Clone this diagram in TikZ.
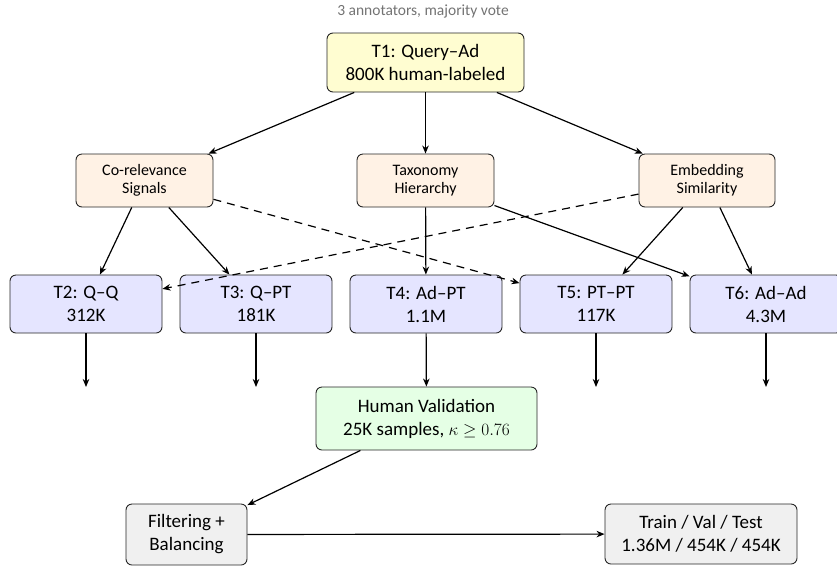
\documentclass[tikz,border=0pt]{standalone}
\usepackage{fontspec}
\setmainfont{Carlito}
\usetikzlibrary{arrows.meta}
\begin{document}
\begin{tikzpicture}[x=1pt,y=-1pt,
  box/.style={draw=black!85,line width=0.9pt,rounded corners=6pt,align=center,inner sep=0pt},
  bigtxt/.style={font=\fontsize{19}{23}\selectfont},
  smalltxt/.style={font=\fontsize{16}{17.7}\selectfont},
  arr/.style={line width=1.2pt,-{Stealth[length=8pt,width=6.5pt,inset=2.5pt]}},
  darr/.style={arr,dash pattern=on 8pt off 6pt}]
\useasboundingbox (0,0) rectangle (837,566);
\node[text=black!55,font=\fontsize{15.5}{17}\selectfont] (cap) at (423,11) {3 annotators, majority vote};
\node[box,bigtxt,fill=yellow!18,minimum width=197pt,minimum height=59pt] (t1) at (425.5,62.5) {T1: Query–Ad\\800K human-labeled};
\node[box,smalltxt,fill=orange!10,minimum width=137pt,minimum height=53pt] (cr) at (144.5,180.5) {Co-relevance\\Signals};
\node[box,smalltxt,fill=orange!10,minimum width=137pt,minimum height=53pt] (tx) at (425.5,180.5) {Taxonomy\\Hierarchy};
\node[box,smalltxt,fill=orange!10,minimum width=136pt,minimum height=53pt] (em) at (707,180.5) {Embedding\\Similarity};
\foreach \n/\x/\a/\b in {t2/86/T2: Q–Q/312K, t3/256/T3: Q–PT/181K, t4/426/T4: Ad–PT/1.1M, t5/596/T5: PT–PT/117K, t6/766/T6: Ad–Ad/4.3M}{
  \node[box,bigtxt,fill=blue!10,minimum width=152pt,minimum height=58pt] (\n) at (\x,304) {\a\\\b};
}
\node[box,bigtxt,fill=green!10,minimum width=221pt,minimum height=63pt] (hv) at (426.5,418.5) {Human Validation\\25K samples, $\kappa \geq 0.76$};
\node[box,bigtxt,fill=black!6,minimum width=121pt,minimum height=61pt] (fb) at (186.5,534.5) {Filtering +\\Balancing};
\node[box,bigtxt,fill=black!6,minimum width=192pt,minimum height=60pt] (tv) at (701,534) {Train / Val / Test\\1.36M / 454K / 454K};
\coordinate (e2) at (86,387);
\coordinate (e3) at (256,387);
\coordinate (e5) at (596,387);
\coordinate (e6) at (766,387);
\draw[arr] (t1) -- (cr);
\draw[arr] (t1) -- (tx);
\draw[arr] (t1) -- (em);
\draw[arr] (cr) -- (t2);
\draw[arr] (cr) -- (t3);
\draw[darr] (cr) -- (t5);
\draw[arr] (tx) -- (t4);
\draw[arr] (tx) -- (t6);
\draw[darr] (em) -- (t2);
\draw[arr] (em) -- (t5);
\draw[arr] (em) -- (t6);
\draw[arr] (t2) -- (e2);
\draw[arr] (t3) -- (e3);
\draw[arr] (t4) -- (hv);
\draw[arr] (t5) -- (e5);
\draw[arr] (t6) -- (e6);
\draw[arr] (hv) -- (fb);
\draw[arr] (fb) -- (tv);
\end{tikzpicture}
\end{document}
